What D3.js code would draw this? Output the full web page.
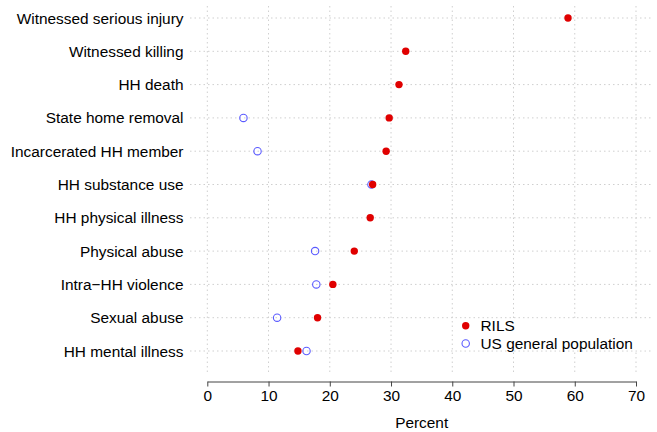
<!DOCTYPE html>
<html>
<head>
<meta charset="utf-8">
<script src="https://cdn.jsdelivr.net/npm/d3@7"></script>
<style>
  body { margin: 0; background: #fff; }
  svg text { font-family: "Liberation Sans", Arial, Helvetica, sans-serif; fill: #000; }
</style>
</head>
<body>
<svg width="657" height="432"></svg>
<script>
const categorias = [
    'Witnessed serious injury',
    'Witnessed killing',
    'HH death',
    'State home removal',
    'Incarcerated HH member',
    'HH substance use',
    'HH physical illness',
    'Physical abuse',
    'Intra\u2212HH violence',
    'Sexual abuse',
    'HH mental illness'
];
const rils = [58.9, 32.4, 31.3, 29.7, 29.2, 27.0, 26.6, 24.0, 20.5, 18.0, 14.8];
const usGeral = [null, null, null, 5.9, 8.2, 26.8, null, 17.6, 17.8, 11.4, 16.2];
const xTicks = [0, 10, 20, 30, 40, 50, 60, 70];
const legenda = ['RILS', 'US general population'];

const svg = d3.select('svg');

const corRils = '#e00000';
const corUs = '#5a5aff';
const fonte = 15.4;

const xEscala = d3.scaleLinear()
    .domain([0, 70])
    .range([207.3, 636]);

const yEscala = d3.scalePoint()
    .domain(categorias)
    .range([18, 351]);

const eixoY = 381.5;

// grade
const grade = svg.append('g')
    .attr('stroke', '#cfcfcf')
    .attr('stroke-width', 1)
    .attr('stroke-dasharray', '1.5,3');

grade.selectAll('line.h').data(categorias)
    .enter().append('line')
        .attr('class', 'h')
        .attr('x1', 190).attr('x2', 653)
        .attr('y1', d => yEscala(d)).attr('y2', d => yEscala(d));

grade.selectAll('line.v').data(xTicks)
    .enter().append('line')
        .attr('class', 'v')
        .attr('x1', d => xEscala(d)).attr('x2', d => xEscala(d))
        .attr('y1', 6).attr('y2', 375);

// rotulos das categorias
svg.append('g').selectAll('text').data(categorias)
    .enter().append('text')
        .attr('x', 183.5)
        .attr('y', d => yEscala(d))
        .attr('dy', '0.36em')
        .attr('text-anchor', 'end')
        .attr('font-size', fonte)
        .text(d => d);

// eixo x
const gx = svg.append('g')
    .attr('transform', `translate(0,${eixoY})`)
    .call(d3.axisBottom(xEscala).tickValues(xTicks).tickSize(5).tickPadding(4).tickSizeOuter(0));
gx.select('.domain').attr('stroke', '#444');
gx.selectAll('.tick line').attr('stroke', '#444');
gx.selectAll('.tick text')
    .attr('font-size', fonte)
    .attr('font-family', '"Liberation Sans", Arial, sans-serif')
    .attr('fill', '#000');

svg.append('text')
    .attr('x', (xEscala(0) + xEscala(70)) / 2)
    .attr('y', 428)
    .attr('text-anchor', 'middle')
    .attr('font-size', fonte)
    .text('Percent');

// pontos
const dadosUs = categorias.map((c, i) => ({c, v: usGeral[i]})).filter(d => d.v !== null);
const dadosRils = categorias.map((c, i) => ({c, v: rils[i]}));

svg.append('g').selectAll('circle').data(dadosUs)
    .enter().append('circle')
        .attr('cx', d => xEscala(d.v))
        .attr('cy', d => yEscala(d.c))
        .attr('r', 3.7)
        .attr('fill', 'none')
        .attr('stroke', corUs)
        .attr('stroke-width', 1.1);

svg.append('g').selectAll('circle').data(dadosRils)
    .enter().append('circle')
        .attr('cx', d => xEscala(d.v))
        .attr('cy', d => yEscala(d.c))
        .attr('r', 3.7)
        .attr('fill', corRils);

// legenda
const leg = svg.append('g');
leg.append('rect')
    .attr('x', 456).attr('y', 318.8)
    .attr('width', 190).attr('height', 31.4)
    .attr('fill', '#fff');
leg.append('circle')
    .attr('cx', 465.7).attr('cy', 325.7).attr('r', 3.7)
    .attr('fill', corRils);
leg.append('circle')
    .attr('cx', 465.7).attr('cy', 343.5).attr('r', 3.7)
    .attr('fill', 'none').attr('stroke', corUs).attr('stroke-width', 1.1);
leg.selectAll('text').data(legenda)
    .enter().append('text')
        .attr('x', 480.5)
        .attr('y', (d, i) => 325.7 + i * 17.8)
        .attr('dy', '0.36em')
        .attr('font-size', fonte)
        .text(d => d);
</script>
</body>
</html>
